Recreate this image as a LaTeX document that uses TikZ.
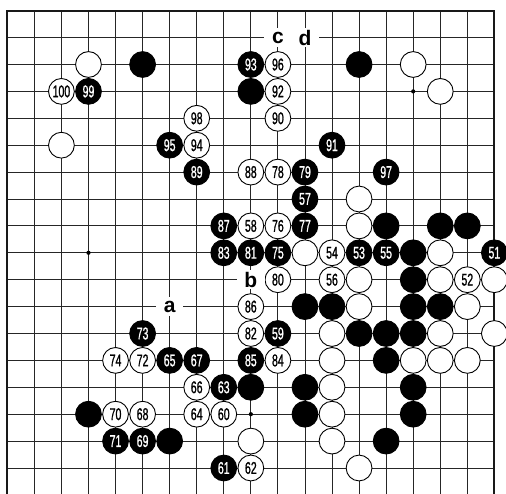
\documentclass[tikz,border=0pt]{standalone}
\usepackage{fontspec}
\setsansfont{Liberation Sans}
\newfontfamily\numfont[FakeStretch=0.62,FakeBold=1]{Liberation Sans}
\tikzset{
  gridline/.style={line width=0.9pt, black!85},
  boardedge/.style={line width=2pt, black!90},
  wst/.style={circle, draw=black, line width=0.9pt, fill=white, minimum size=25.8pt, inner sep=0pt,
              font=\numfont\fontsize{17}{17}\selectfont},
  bst/.style={circle, draw=black, line width=0.9pt, fill=black, text=white, minimum size=25.8pt, inner sep=0pt,
              font=\numfont\fontsize{17}{17}\selectfont},
  lbl/.style={fill=white, inner sep=0pt, minimum width=27.6pt, minimum height=19pt,
              font=\sffamily\bfseries\fontsize{21}{21}\selectfont},
  hoshi/.style={fill=black}
}
\begin{document}
\begin{tikzpicture}[x=27.06pt, y=-26.9pt]
\useasboundingbox (-7.3pt,10.7pt) rectangle (498.7pt,-483.3pt);
\clip (-7.3pt,10.7pt) rectangle (498.7pt,-483.3pt);
% grid
\foreach \c in {1,...,17} \draw[gridline] (\c,0) -- (\c,18.3);
\foreach \r in {1,...,17} \draw[gridline] (0,\r) -- (18,\r);
\draw[boardedge] (0,18.3) -- (0,0) -- (18,0) -- (18,18.3);
% star points
\foreach \c/\r in {3/3,9/3,15/3,3/9,9/9,15/9,3/15,9/15,15/15}
  \fill[hoshi] (\c,\r) circle (2.1pt);
% plain white stones
\foreach \c/\r in {3/2,15/2,16/3,2/5,13/7,13/8,11/9,16/9,13/10,16/10,18/10,13/11,17/11,
                   12/12,16/12,18/12,12/13,15/13,16/13,17/13,12/14,12/15,9/16,12/16,13/17}
  \node[wst] (w\c-\r) at (\c,\r) {};
% plain black stones
\foreach \c/\r in {5/2,13/2,9/3,14/8,16/8,17/8,15/9,15/10,11/11,12/11,15/11,16/11,13/12,14/12,15/12,
                   14/13,9/14,11/14,15/14,3/15,11/15,15/15,6/16,14/16}
  \node[bst] (b\c-\r) at (\c,\r) {};
% numbered black stones
\foreach \n/\c/\r in {51/18/9,53/13/9,55/14/9,57/11/7,59/10/12,61/8/17,63/8/14,65/6/13,67/7/13,
                      69/5/16,71/4/16,73/5/12,75/10/9,77/11/8,79/11/6,81/9/9,83/8/9,85/9/13,
                      87/8/8,89/7/6,91/12/5,93/9/2,95/6/5,97/14/6,99/3/3}
  \node[bst] (m\n) at (\c,\r) {\n};
% numbered white stones
\foreach \n/\c/\r in {52/17/10,54/12/9,56/12/10,58/9/8,60/8/15,62/9/17,64/7/15,66/7/14,68/5/15,
                      70/4/15,72/5/13,74/4/13,76/10/8,78/10/6,80/10/10,82/9/12,84/10/13,86/9/11,
                      88/9/6,90/10/4,92/10/3,94/7/5,96/10/2,98/7/4,100/2/3}
  \node[wst] (m\n) at (\c,\r) {\n};
% letters
\node[lbl] (la) at (6,11) {a};
\node[lbl] (lb) at (9,10) {b};
\node[lbl] (lc) at (10,1) {c};
\node[lbl] (ld) at (11,1) {d};
\end{tikzpicture}
\end{document}
